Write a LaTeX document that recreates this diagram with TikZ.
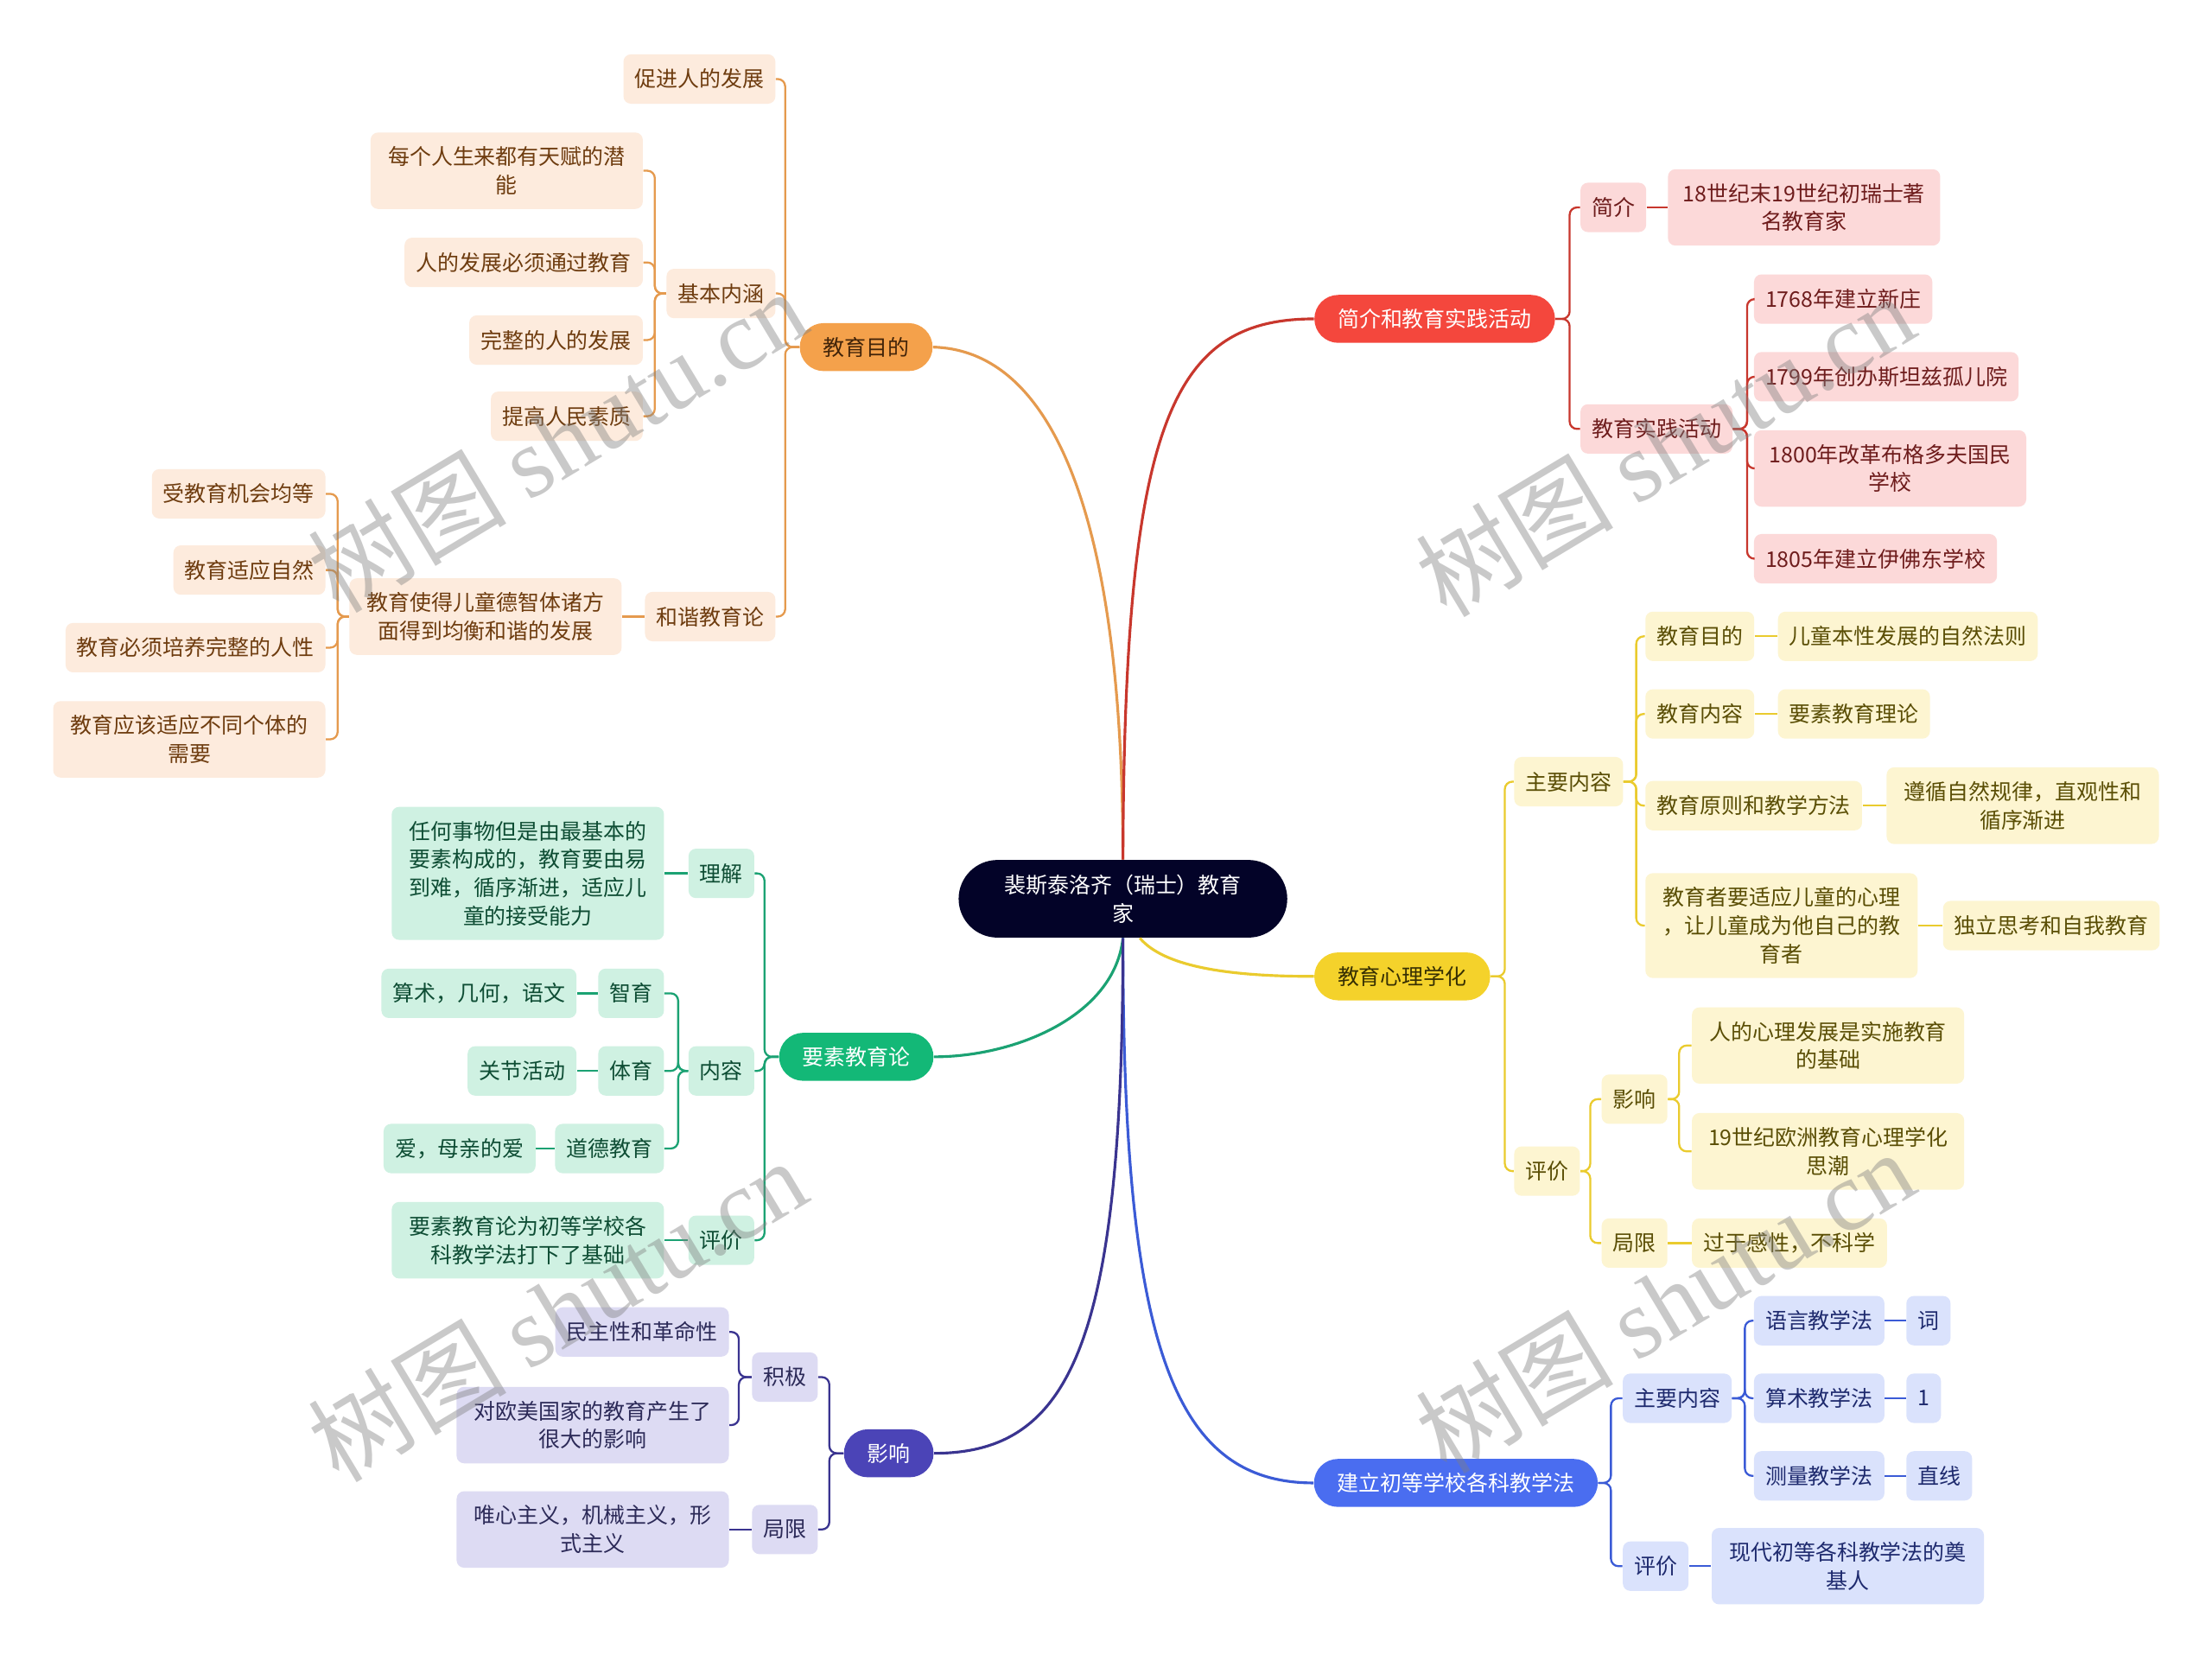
\documentclass[tikz,border=0pt]{standalone}
\usepackage{fontspec}
\setmainfont{Noto Sans CJK SC}
\newfontfamily\wmfont{Liberation Serif}
\usetikzlibrary{positioning}
\definecolor{rootC} {RGB}{  3,   3,  40}
\definecolor{mainO} {RGB}{244, 161,  75}
\definecolor{mainR} {RGB}{244,  71,  61}
\definecolor{mainY} {RGB}{244, 210,  43}
\definecolor{mainG} {RGB}{ 19, 184, 119}
\definecolor{mainI} {RGB}{ 75,  68, 183}
\definecolor{mainB} {RGB}{ 74, 109, 240}
\definecolor{lightO}{RGB}{253, 235, 221}
\definecolor{lightR}{RGB}{252, 217, 217}
\definecolor{lightY}{RGB}{253, 245, 209}
\definecolor{lightG}{RGB}{207, 241, 226}
\definecolor{lightI}{RGB}{221, 219, 243}
\definecolor{lightB}{RGB}{218, 226, 252}
\definecolor{textO} {RGB}{110,  60,  15}
\definecolor{textR} {RGB}{110,  28,  28}
\definecolor{textY} {RGB}{ 90,  78,   5}
\definecolor{textG} {RGB}{ 14,  77,  52}
\definecolor{textI} {RGB}{ 44,  42,  88}
\definecolor{textB} {RGB}{ 30,  42, 110}
\definecolor{lineO} {RGB}{229, 154,  78}
\definecolor{lineR} {RGB}{200,  55,  45}
\definecolor{lineY} {RGB}{234, 203,  46}
\definecolor{lineG} {RGB}{ 27, 162, 115}
\definecolor{lineI} {RGB}{ 58,  52, 144}
\definecolor{lineB} {RGB}{ 59,  91, 214}
\tikzset{
  root/.style   = {rectangle, rounded corners=0.55cm, fill=rootC, text=white,
                   align=center, minimum width=4.66cm, minimum height=1.1cm,
                   font=\fontsize{8.7}{11.4}\selectfont},
  topic/.style  = {rectangle, rounded corners=0.34cm, inner xsep=0.33cm,
                   minimum height=0.68cm, font=\fontsize{8.7}{11.4}\selectfont},
  box/.style    = {rectangle, rounded corners=3pt, inner xsep=0.16cm, inner ysep=0.2cm,
                   minimum height=0.7cm, align=center, font=\fontsize{8.7}{11.4}\selectfont},
  wide/.style   = {minimum width=3.86cm},
  boxO/.style   = {box, fill=lightO, text=textO},
  boxR/.style   = {box, fill=lightR, text=textR},
  boxY/.style   = {box, fill=lightY, text=textY},
  boxG/.style   = {box, fill=lightG, text=textG},
  boxI/.style   = {box, fill=lightI, text=textI},
  boxB/.style   = {box, fill=lightB, text=textB},
  link/.style   = {line width=0.8pt, rounded corners=3pt},
  curve/.style  = {line width=1.1pt},
  wmark/.style  = {rotate=31, text=gray, text opacity=0.42, font=\fontsize{40}{42}\selectfont},
}

\begin{document}
\begin{tikzpicture}[x=0.02cm, y=-0.02cm]
\path[fill=white, use as bounding box] (0,0) rectangle (1568,1177);

% ---- Root and main topics ---------------------------------------------------
\node[root] (R) at (796,637) {裴斯泰洛齐（瑞士）教育\\家};

\node[topic, fill=mainO, text=textO!60!black] (T1) at (614,246)  {教育目的};
\node[topic, fill=mainR, text=white]          (T2) at (1017,226) {简介和教育实践活动};
\node[topic, fill=mainY, text=textY!60!black] (T3) at (994,692)  {教育心理学化};
\node[topic, fill=mainB, text=white]          (T4) at (1032,1051) {建立初等学校各科教学法};
\node[topic, fill=mainG, text=white]          (T5) at (607,749)  {要素教育论};
\node[topic, fill=mainI, text=white]          (T6) at (630,1030) {影响};

% ---- 教育目的 ----------------------------------------------------------------
\node[boxO, anchor=east] (A1) at (550,56)  {促进人的发展};
\node[boxO, anchor=east] (A2) at (550,208) {基本内涵};
\node[boxO, anchor=east] (A3) at (550,437) {和谐教育论};

\node[boxO, wide, anchor=east] (A21) at (456,121) {每个人生来都有天赋的潜\\能};
\node[boxO, anchor=east] (A22) at (456,186) {人的发展必须通过教育};
\node[boxO, anchor=east] (A23) at (456,241) {完整的人的发展};
\node[boxO, anchor=east] (A24) at (456,295) {提高人民素质};

\node[boxO, wide, anchor=east] (A31) at (441,437) {教育使得儿童德智体诸方\\面得到均衡和谐的发展};

\node[boxO, anchor=east] (A311) at (231,350) {受教育机会均等};
\node[boxO, anchor=east] (A312) at (231,404) {教育适应自然};
\node[boxO, anchor=east] (A313) at (231,459) {教育必须培养完整的人性};
\node[boxO, wide, anchor=east] (A314) at (231,524) {教育应该适应不同个体的\\需要};

% ---- 简介和教育实践活动 ------------------------------------------------------
\node[boxR, anchor=west] (B1)  at (1120,147) {简介};
\node[boxR, wide, anchor=west] (B11) at (1182,147) {18世纪末19世纪初瑞士著\\名教育家};
\node[boxR, anchor=west] (B2)  at (1120,304) {教育实践活动};

\node[boxR, anchor=west] (B21) at (1243,212) {1768年建立新庄};
\node[boxR, anchor=west] (B22) at (1243,267) {1799年创办斯坦兹孤儿院};
\node[boxR, wide, anchor=west] (B23) at (1243,332) {1800年改革布格多夫国民\\学校};
\node[boxR, anchor=west] (B24) at (1243,396) {1805年建立伊佛东学校};

% ---- 教育心理学化 ------------------------------------------------------------
\node[boxY, anchor=west] (C1)  at (1073,554) {主要内容};
\node[boxY, anchor=west] (C11) at (1166,451) {教育目的};
\node[boxY, anchor=west] (C111) at (1260,451) {儿童本性发展的自然法则};
\node[boxY, anchor=west] (C12) at (1166,506) {教育内容};
\node[boxY, anchor=west] (C121) at (1260,506) {要素教育理论};
\node[boxY, anchor=west] (C13) at (1166,571) {教育原则和教学方法};
\node[boxY, wide, anchor=west] (C131) at (1337,571) {遵循自然规律，直观性和\\循序渐进};
\node[boxY, wide, anchor=west] (C14) at (1166,656) {教育者要适应儿童的心理\\，让儿童成为他自己的教\\育者};
\node[boxY, anchor=west] (C141) at (1377,656) {独立思考和自我教育};

\node[boxY, anchor=west] (C2)  at (1073,830) {评价};
\node[boxY, anchor=west] (C21) at (1135,779) {影响};
\node[boxY, wide, anchor=west] (C211) at (1199,741) {人的心理发展是实施教育\\的基础};
\node[boxY, wide, anchor=west] (C212) at (1199,816) {19世纪欧洲教育心理学化\\思潮};
\node[boxY, anchor=west] (C22) at (1135,881) {局限};
\node[boxY, anchor=west] (C221) at (1199,881) {过于感性，不科学};

% ---- 建立初等学校各科教学法 --------------------------------------------------
\node[boxB, anchor=west] (D1)  at (1150,991) {主要内容};
\node[boxB, anchor=west] (D11) at (1243,936) {语言教学法};
\node[boxB, anchor=west] (D111) at (1351,936) {词};
\node[boxB, anchor=west] (D12) at (1243,991) {算术教学法};
\node[boxB, anchor=west] (D121) at (1351,991) {1};
\node[boxB, anchor=west] (D13) at (1243,1046) {测量教学法};
\node[boxB, anchor=west] (D131) at (1351,1046) {直线};
\node[boxB, anchor=west] (D2)  at (1150,1110) {评价};
\node[boxB, wide, anchor=west] (D21) at (1213,1110) {现代初等各科教学法的奠\\基人};

% ---- 要素教育论 --------------------------------------------------------------
\node[boxG, anchor=east] (E1)  at (535,619) {理解};
\node[boxG, wide, anchor=east] (E11) at (471,619)
  {任何事物但是由最基本的\\要素构成的，教育要由易\\到难，循序渐进，适应儿\\童的接受能力};
\node[boxG, anchor=east] (E2)  at (535,759) {内容};
\node[boxG, anchor=east] (E21) at (471,704) {智育};
\node[boxG, anchor=east] (E211) at (409,704) {算术，几何，语文};
\node[boxG, anchor=east] (E22) at (471,759) {体育};
\node[boxG, anchor=east] (E221) at (409,759) {关节活动};
\node[boxG, anchor=east] (E23) at (471,814) {道德教育};
\node[boxG, anchor=east] (E231) at (380,814) {爱，母亲的爱};
\node[boxG, anchor=east] (E3)  at (535,879) {评价};
\node[boxG, wide, anchor=east] (E31) at (471,879) {要素教育论为初等学校各\\科教学法打下了基础};

% ---- 影响 --------------------------------------------------------------------
\node[boxI, anchor=east] (F1)  at (580,976) {积极};
\node[boxI, anchor=east] (F11) at (517,944) {民主性和革命性};
\node[boxI, wide, anchor=east] (F12) at (517,1010) {对欧美国家的教育产生了\\很大的影响};
\node[boxI, anchor=east] (F2)  at (580,1084) {局限};
\node[boxI, wide, anchor=east] (F21) at (517,1084) {唯心主义，机械主义，形\\式主义};

% ---- Curves from the root ---------------------------------------------------
\draw[curve, lineO] (R.north) .. controls (796,350) and (740,248) .. (T1.east);
\draw[curve, lineR] (R.north) .. controls (797,300) and (830,226) .. (T2.west);
\draw[curve, lineY] ([xshift=0.24cm]R.south) .. controls (825,685) and (870,692) .. (T3.west);
\draw[curve, lineB] (R.south) .. controls (796,950) and (830,1051) .. (T4.west);
\draw[curve, lineG] (R.south) .. controls (790,720) and (720,749) .. (T5.east);
\draw[curve, lineI] (R.south) .. controls (796,950) and (760,1030) .. (T6.east);

% ---- Branch links, left side ------------------------------------------------
\foreach \c in {A1,A2,A3}
  \draw[link, lineO] (T1.west) -- ++(-10,0) |- (\c.east);
\foreach \c in {A21,A22,A23,A24}
  \draw[link, lineO] (A2.west) -- ++(-8,0) |- (\c.east);
\draw[link, lineO] (A3.west) -- (A31.east);
\foreach \c in {A311,A312,A313,A314}
  \draw[link, lineO] (A31.west) -- ++(-8,0) |- (\c.east);

\foreach \c in {E1,E2,E3}
  \draw[link, lineG] (T5.west) -- ++(-10,0) |- (\c.east);
\draw[link, lineG] (E1.west) -- (E11.east);
\foreach \c in {E21,E22,E23}
  \draw[link, lineG] (E2.west) -- ++(-7,0) |- (\c.east);
\draw[link, lineG] (E21.west) -- (E211.east);
\draw[link, lineG] (E22.west) -- (E221.east);
\draw[link, lineG] (E23.west) -- (E231.east);
\draw[link, lineG] (E3.west) -- (E31.east);

\foreach \c in {F1,F2}
  \draw[link, lineI] (T6.west) -- ++(-10,0) |- (\c.east);
\foreach \c in {F11,F12}
  \draw[link, lineI] (F1.west) -- ++(-9,0) |- (\c.east);
\draw[link, lineI] (F2.west) -- (F21.east);

% ---- Branch links, right side -----------------------------------------------
\foreach \c in {B1,B2}
  \draw[link, lineR] (T2.east) -- ++(10,0) |- (\c.west);
\draw[link, lineR] (B1.east) -- (B11.west);
\foreach \c in {B21,B22,B23,B24}
  \draw[link, lineR] (B2.east) -- ++(10,0) |- (\c.west);

\foreach \c in {C1,C2}
  \draw[link, lineY] (T3.east) -- ++(10,0) |- (\c.west);
\foreach \c in {C11,C12,C13,C14}
  \draw[link, lineY] (C1.east) -- ++(9,0) |- (\c.west);
\foreach \a/\b in {C11/C111, C12/C121, C13/C131, C14/C141, C22/C221}
  \draw[link, lineY] (\a.east) -- (\b.west);
\foreach \c in {C21,C22}
  \draw[link, lineY] (C2.east) -- ++(7,0) |- (\c.west);
\foreach \c in {C211,C212}
  \draw[link, lineY] (C21.east) -- ++(8,0) |- (\c.west);

\foreach \c in {D1,D2}
  \draw[link, lineB] (T4.east) -- ++(9,0) |- (\c.west);
\foreach \c in {D11,D12,D13}
  \draw[link, lineB] (D1.east) -- ++(9,0) |- (\c.west);
\foreach \a/\b in {D11/D111, D12/D121, D13/D131, D2/D21}
  \draw[link, lineB] (\a.east) -- (\b.west);

% ---- Watermarks -------------------------------------------------------------
\node[wmark] (W1) at (395,312)  {树图 {\wmfont shutu.cn}};
\node[wmark] (W2) at (1180,315) {树图 {\wmfont shutu.cn}};
\node[wmark] (W3) at (395,928)  {树图 {\wmfont shutu.cn}};
\node[wmark] (W4) at (1180,922) {树图 {\wmfont shutu.cn}};

\end{tikzpicture}
\end{document}
